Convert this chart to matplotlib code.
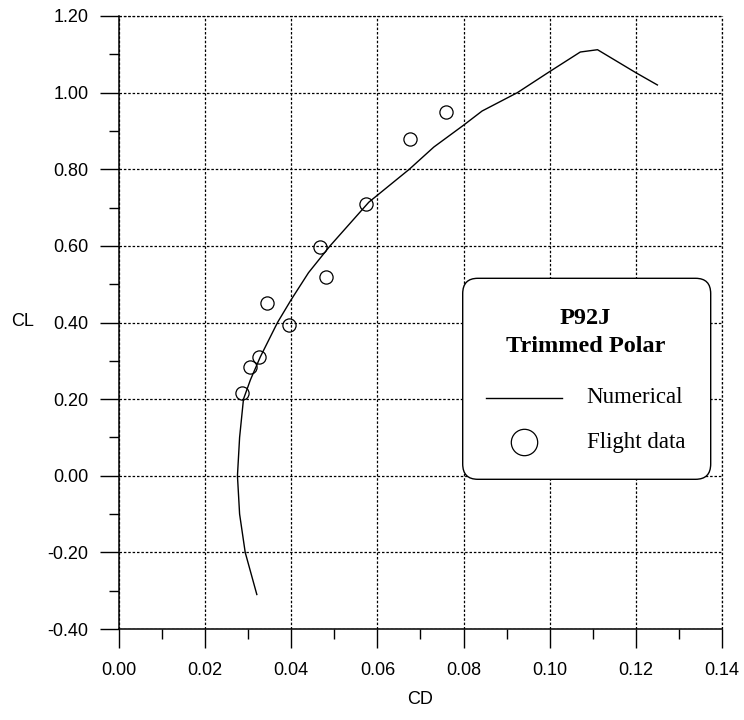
import matplotlib
matplotlib.use("Agg")
import matplotlib.pyplot as plt
from matplotlib.patches import FancyBboxPatch
from matplotlib.lines import Line2D
from matplotlib.ticker import MultipleLocator, FormatStrFormatter

# Numerical trimmed polar (CD, CL)
num_cd = [0.0320, 0.0293, 0.0280, 0.0275, 0.0280, 0.0289, 0.0305, 0.0328, 0.0368,
          0.0400, 0.0440, 0.0490, 0.0580, 0.0674, 0.0731, 0.0800, 0.0843, 0.0925,
          0.1000, 0.1071, 0.1111, 0.1200, 0.1250]
num_cl = [-0.31, -0.20, -0.10, 0.00, 0.10, 0.20, 0.25, 0.31, 0.40,
          0.46, 0.53, 0.60, 0.714, 0.80, 0.858, 0.915, 0.952, 1.00,
          1.055, 1.106, 1.112, 1.052, 1.02]

# Flight data
fl_cd = [0.0286, 0.0303, 0.0326, 0.0344, 0.0395, 0.0466, 0.0481, 0.0574, 0.0675, 0.0760]
fl_cl = [0.215, 0.284, 0.310, 0.452, 0.394, 0.596, 0.519, 0.709, 0.878, 0.949]

legend_title = ["P92J", "Trimmed Polar"]
legend_labels = ["Numerical", "Flight data"]

sans = ["Liberation Sans", "DejaVu Sans"]
serif = ["Liberation Serif", "DejaVu Serif"]

fig = plt.figure(figsize=(7.44, 7.2), dpi=100)
ax = fig.add_axes([119/744, (720-629)/720, (722-119)/744, (629-16)/720])

ax.plot(num_cd, num_cl, color="black", lw=1.0, zorder=3)
ax.plot(fl_cd, fl_cl, linestyle="none", marker="o", markersize=9.5,
        markerfacecolor="none", markeredgecolor="black", markeredgewidth=0.9, zorder=4)

ax.set_xlim(0, 0.14)
ax.set_ylim(-0.4, 1.2)
ax.xaxis.set_major_locator(MultipleLocator(0.02))
ax.xaxis.set_minor_locator(MultipleLocator(0.01))
ax.yaxis.set_major_locator(MultipleLocator(0.2))
ax.yaxis.set_minor_locator(MultipleLocator(0.1))
ax.xaxis.set_major_formatter(FormatStrFormatter("%.2f"))
ax.yaxis.set_major_formatter(FormatStrFormatter("%.2f"))

grid_style = dict(color="black", linestyle=(0, (2, 1.5)), linewidth=0.9)
ax.grid(True, which="major", **grid_style)
ax.axvline(0.14, clip_on=False, zorder=2, **grid_style)
ax.axhline(1.2, clip_on=False, zorder=2, **grid_style)
for s in ["top", "right"]:
    ax.spines[s].set_visible(False)
for s in ["left", "bottom"]:
    ax.spines[s].set_linewidth(1.1)

ax.tick_params(which="major", direction="out", length=14, width=1.0, pad=8, labelsize=13)
ax.tick_params(which="minor", direction="out", length=7, width=1.0)
ax.tick_params(axis="x", which="major", pad=10)
for lab in ax.get_xticklabels() + ax.get_yticklabels():
    lab.set_family(sans)

fig.text(23/744, 1 - 322/720, "CL", family=sans, fontsize=13, ha="center", va="center")
fig.text(420/744, 1 - 700/720, "CD", family=sans, fontsize=13, ha="center", va="center")

# Legend box
def ax_xy(px, py):
    return ((px - 119) / (722 - 119), (629 - py) / (629 - 16))

x0, y0 = ax_xy(462.7, 479.3)
x1, y1 = ax_xy(710.7, 278.3)
box = FancyBboxPatch((x0, y0), x1 - x0, y1 - y0,
                     boxstyle="round,pad=0,rounding_size=0.025",
                     transform=ax.transAxes, facecolor="white", edgecolor="black",
                     linewidth=1.0, zorder=5)
ax.add_patch(box)

tx, ty = ax_xy(585, 318)
ax.text(tx, ty, legend_title[0], transform=ax.transAxes, family=serif, fontweight="bold",
        fontsize=17.5, ha="center", va="center", zorder=6)
tx, ty = ax_xy(586, 347)
ax.text(tx, ty, legend_title[1], transform=ax.transAxes, family=serif, fontweight="bold",
        fontsize=17.5, ha="center", va="center", zorder=6)

lx0, ly = ax_xy(486, 397.7)
lx1, _ = ax_xy(562, 397.7)
ax.add_line(Line2D([lx0, lx1], [ly, ly], transform=ax.transAxes, color="black", lw=1.0, zorder=6))
tx, _ = ax_xy(586.7, 397.7)
ax.text(tx, ly, legend_labels[0], transform=ax.transAxes, family=serif, fontsize=16.5,
        ha="left", va="center", zorder=6)

cx, cy = ax_xy(524, 442.3)
ax.add_line(Line2D([cx], [cy], transform=ax.transAxes, marker="o", markersize=19,
                   markerfacecolor="none", markeredgecolor="black", markeredgewidth=0.9,
                   linestyle="none", zorder=6))
ax.text(tx, cy, legend_labels[1], transform=ax.transAxes, family=serif, fontsize=16.5,
        ha="left", va="center", zorder=6)

fig.savefig("out.png", dpi=100)
